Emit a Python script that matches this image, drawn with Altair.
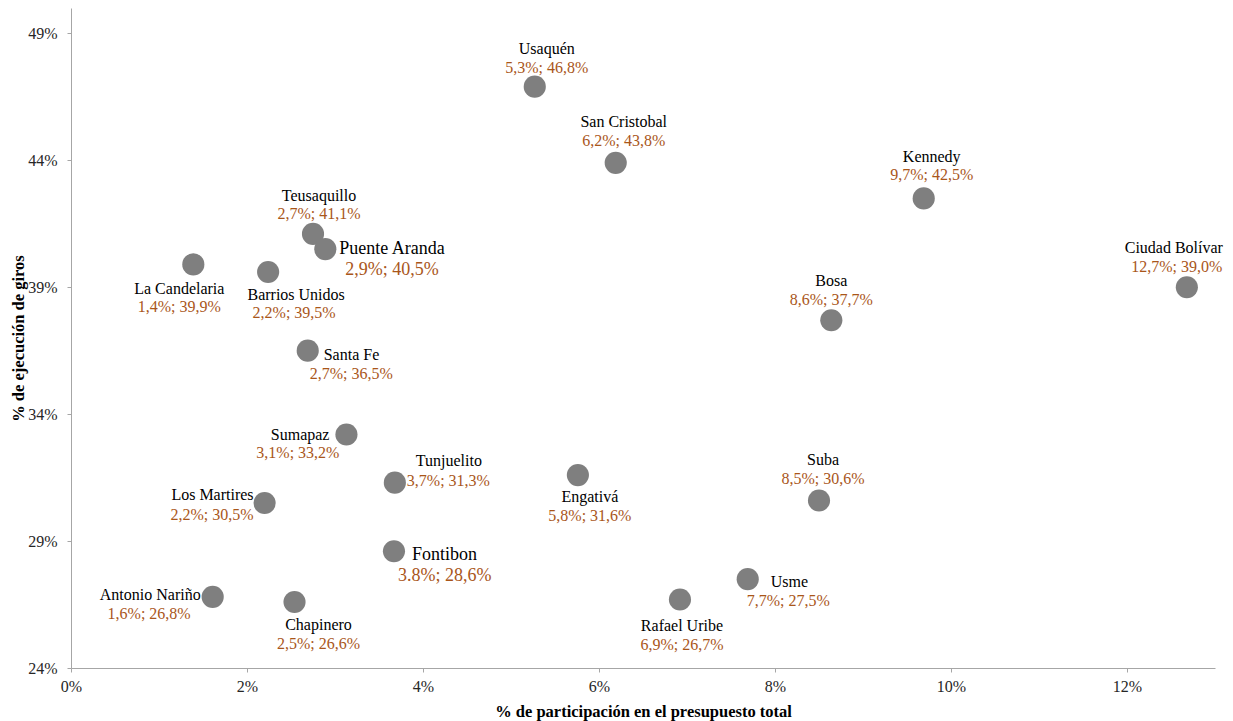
import altair as alt
import pandas as pd

# ---- data ----
localidades = ["Usaquén", "San Cristobal", "Kennedy", "Ciudad Bolívar", "Bosa",
               "Teusaquillo", "Puente Aranda", "La Candelaria", "Barrios Unidos",
               "Santa Fe", "Sumapaz", "Tunjuelito", "Los Martires", "Engativá",
               "Suba", "Fontibon", "Usme", "Rafael Uribe", "Antonio Nariño", "Chapinero"]
participacion = [5.27, 6.19, 9.69, 12.68, 8.64,
                 2.75, 2.89, 1.39, 2.24,
                 2.69, 3.13, 3.68, 2.2, 5.76,
                 8.5, 3.67, 7.69, 6.92, 1.61, 2.54]
ejecucion = [46.9, 43.9, 42.5, 39.0, 37.7,
             41.1, 40.5, 39.9, 39.6,
             36.5, 33.2, 31.3, 30.5, 31.6,
             30.6, 28.6, 27.5, 26.7, 26.8, 26.6]
etiquetas = ["5,3%; 46,8%", "6,2%; 43,8%", "9,7%; 42,5%", "12,7%; 39,0%", "8,6%; 37,7%",
             "2,7%; 41,1%", "2,9%; 40,5%", "1,4%; 39,9%", "2,2%; 39,5%",
             "2,7%; 36,5%", "3,1%; 33,2%", "3,7%; 31,3%", "2,2%; 30,5%", "5,8%; 31,6%",
             "8,5%; 30,6%", "3.8%; 28,6%", "7,7%; 27,5%", "6,9%; 26,7%", "1,6%; 26,8%", "2,5%; 26,6%"]
x_ticks = [0, 2, 4, 6, 8, 10, 12]
y_ticks = [24, 29, 34, 39, 44, 49]

# ---- label placement (layout only): align, name dx, name dy, value dx, value dy, font size ----
placement = {
    "Usaquén":        ("center", 12, -38, 12, -19, 16),
    "San Cristobal":  ("center", 8, -41, 8, -22, 16),
    "Kennedy":        ("center", 8, -41, 8, -23, 16),
    "Ciudad Bolívar": ("center", -13, -39, -10, -20, 16),
    "Bosa":           ("center", 0, -39, 0, -20, 16),
    "Teusaquillo":    ("center", 6, -38, 6, -20, 16),
    "Puente Aranda":  ("left", 14, 0, 20, 21, 18),
    "La Candelaria":  ("center", -14, 25, -14, 43, 16),
    "Barrios Unidos": ("center", 28, 23, 26, 41, 16),
    "Santa Fe":       ("left", 16, 4, 2, 23, 16),
    "Sumapaz":        ("right", -17, 1, -7, 19, 16),
    "Tunjuelito":     ("left", 21, -22, 12, -2, 16),
    "Los Martires":   ("right", -11, -8, -11, 12, 16),
    "Engativá":       ("center", 12, 22, 12, 41, 16),
    "Suba":           ("center", 4, -40, 4, -21, 16),
    "Fontibon":       ("left", 18, 4, 4, 25, 18),
    "Usme":           ("left", 23, 3, -1, 22, 16),
    "Rafael Uribe":   ("center", 2, 27, 2, 46, 16),
    "Antonio Nariño": ("right", -12, -2, -22, 17, 16),
    "Chapinero":      ("center", 24, 23, 24, 42, 16),
}

df = pd.DataFrame({"nombre": localidades, "part": participacion,
                   "ejec": ejecucion, "etiqueta": etiquetas})

FONT = "Liberation Serif"
AXIS_COLOR = "#a6a6a6"
W, H = 1144, 660

x_enc = alt.X("part:Q",
              scale=alt.Scale(domain=[0, 13], nice=False, zero=False),
              axis=alt.Axis(values=x_ticks, labelExpr="datum.value + '%'",
                            title="% de participación en el presupuesto total",
                            grid=False, domainColor=AXIS_COLOR, tickColor=AXIS_COLOR,
                            tickSize=4, labelPadding=6, labelFlush=False, labelOverlap=False,
                            titleY=43, titleBaseline="middle",
                            labelFont=FONT, labelFontSize=16, labelColor="#262626",
                            titleFont=FONT, titleFontSize=16.5, titleFontWeight="bold",
                            titleColor="#000000"))
y_enc = alt.Y("ejec:Q",
              scale=alt.Scale(domain=[24, 50], nice=False, zero=False),
              axis=alt.Axis(values=y_ticks, labelExpr="datum.value + '%'",
                            title="% de ejecución de giros",
                            grid=False, domainColor=AXIS_COLOR, tickColor=AXIS_COLOR,
                            tickSize=4, labelPadding=10, labelFlush=False, labelOverlap=False,
                            titleX=-53, titleY=H / 2, titleAngle=270,
                            titleAlign="center", titleBaseline="middle",
                            labelFont=FONT, labelFontSize=16, labelColor="#262626",
                            titleFont=FONT, titleFontSize=16.5, titleFontWeight="bold",
                            titleColor="#000000"))

base = alt.Chart(df)
points = base.mark_circle(size=490, color="#7f7f7f", opacity=1).encode(x=x_enc, y=y_enc)

layers = [points]
for nm in localidades:
    align, ndx, ndy, vdx, vdy, fs = placement[nm]
    sub = base.transform_filter(alt.datum.nombre == nm)
    layers.append(sub.mark_text(align=align, baseline="middle", dx=ndx, dy=ndy,
                                font=FONT, fontSize=fs, color="#000000")
                  .encode(x="part:Q", y="ejec:Q", text="nombre:N"))
    layers.append(sub.mark_text(align=align, baseline="middle", dx=vdx, dy=vdy,
                                font=FONT, fontSize=fs, color="#a9561a")
                  .encode(x="part:Q", y="ejec:Q", text="etiqueta:N"))

chart = alt.layer(*layers).properties(
    width=W, height=H,
    autosize=alt.AutoSizeParams(type="none"),
    padding={"left": 63, "top": 0, "right": 10, "bottom": 53},
    background="white",
).configure_view(strokeWidth=0)

chart.save("out.html", embed_options={"renderer": "svg", "actions": False})
